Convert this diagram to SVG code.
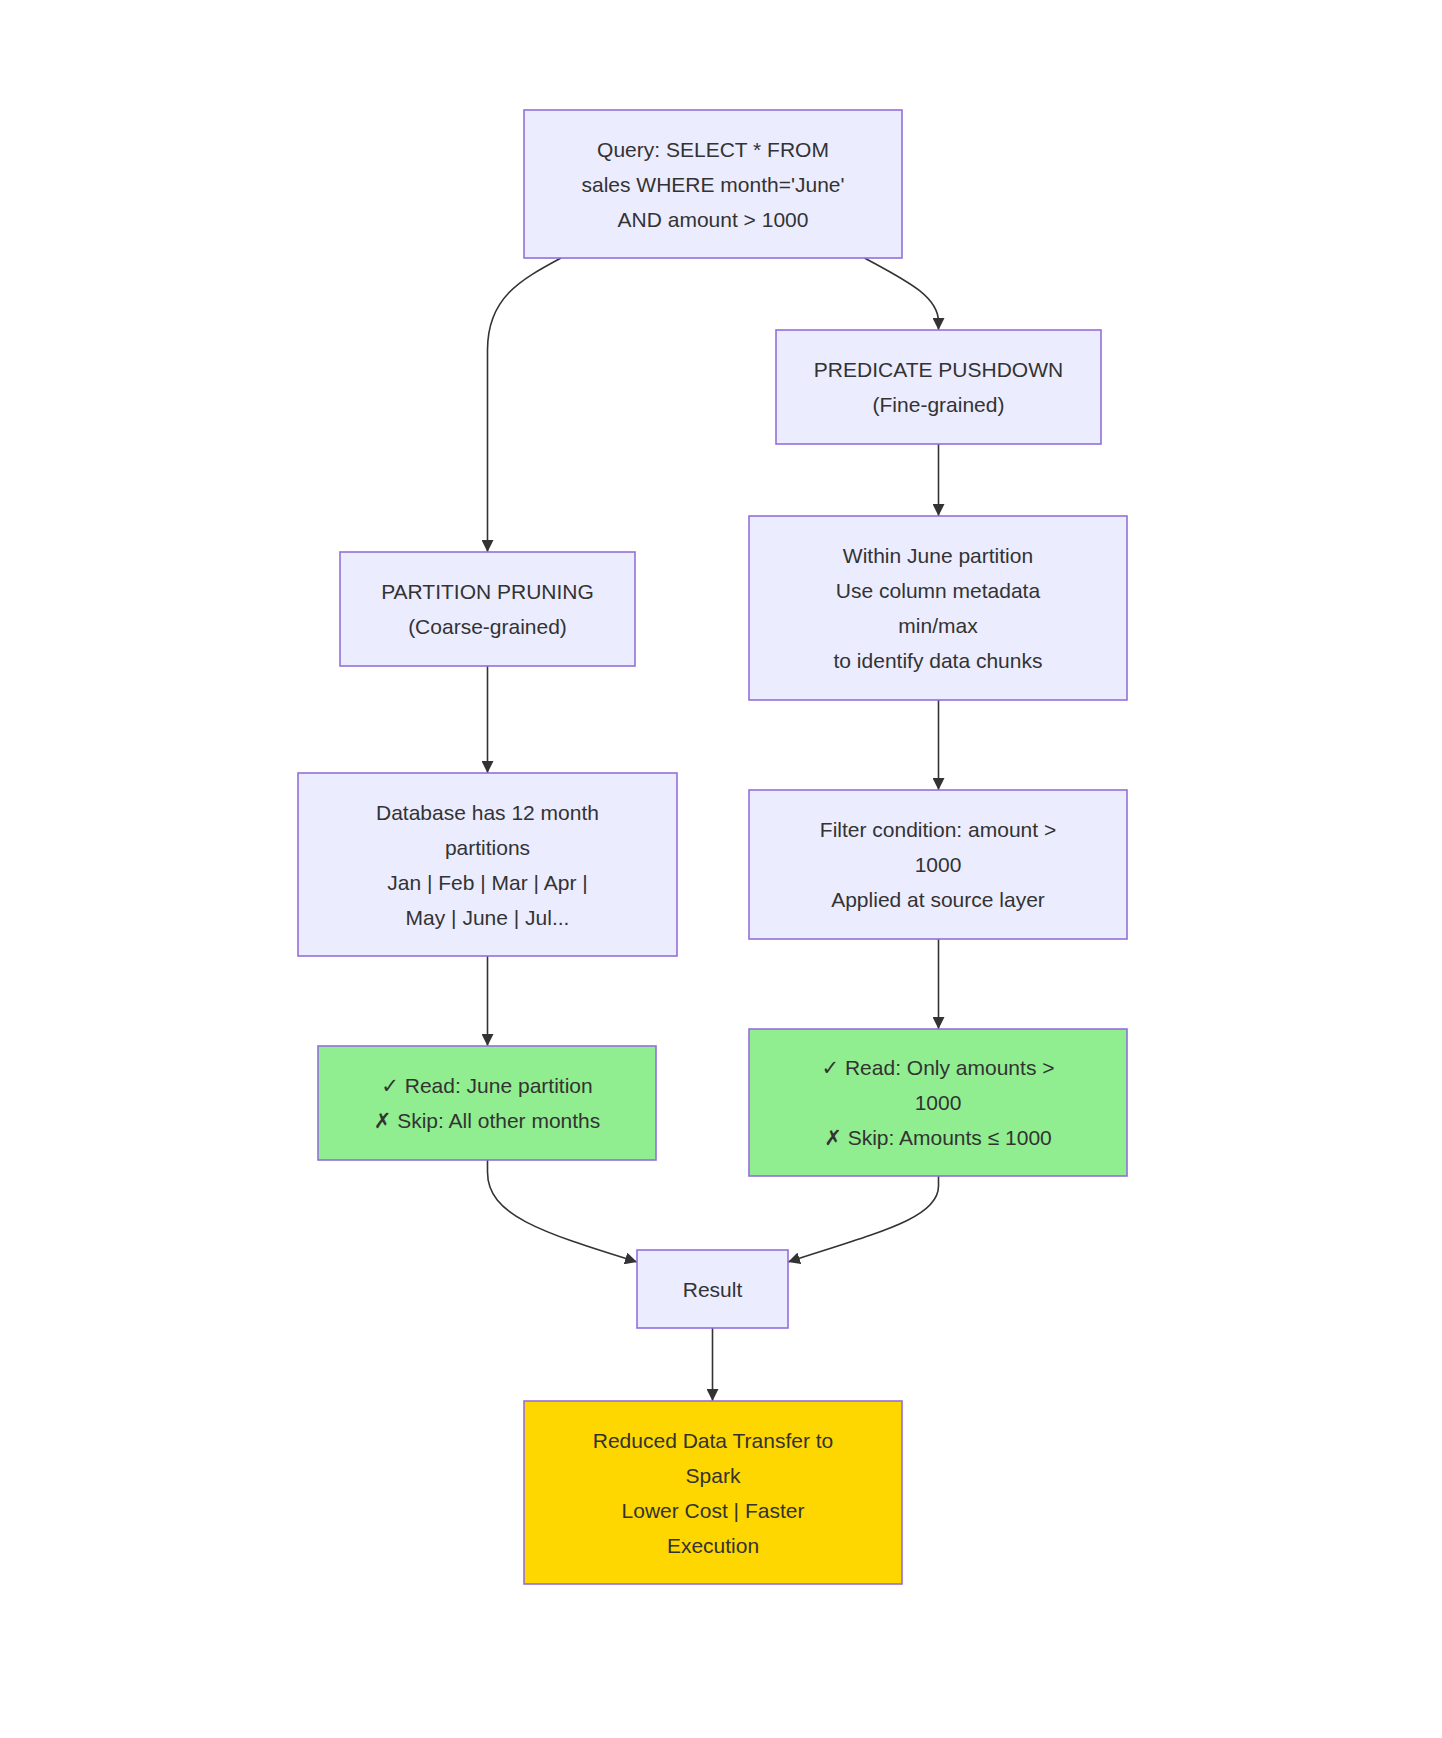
<svg xmlns="http://www.w3.org/2000/svg" width="1442" height="1738" viewBox="0 0 1442 1738">
<style>
  .n { fill: #ECECFF; stroke: #9370DB; stroke-width: 1.6; }
  .g { fill: #90EE90; stroke: #9370DB; stroke-width: 1.6; }
  .y { fill: #FFD700; stroke: #9370DB; stroke-width: 1.6; }
  text { font-family: "Trebuchet MS", "Liberation Sans", "DejaVu Sans", sans-serif; font-size: 21px; fill: #333333; text-anchor: middle; dominant-baseline: central; }
  .e { fill: none; stroke: #333333; stroke-width: 1.6; marker-end: url(#arr); }
</style>
<defs>
  <marker id="arr" viewBox="0 0 10 10" refX="10" refY="5" markerUnits="userSpaceOnUse" markerWidth="12" markerHeight="12" orient="auto">
    <path d="M0,0 L10,5 L0,10 z" fill="#333333"/>
  </marker>
</defs>
<rect width="1442" height="1738" fill="#ffffff"/>
<g id="edges">
  <path class="e" d="M561,258 C520,280 487.5,298 487.5,350 L487.5,552"/>
  <path class="e" d="M864.5,258 C905,280 938.5,296 938.5,322 L938.5,330"/>
  <path class="e" d="M938.5,444 L938.5,516"/>
  <path class="e" d="M938.5,700 L938.5,790"/>
  <path class="e" d="M938.5,939 L938.5,1029"/>
  <path class="e" d="M487.5,666 L487.5,773"/>
  <path class="e" d="M487.5,956 L487.5,1046"/>
  <path class="e" d="M487.5,1160 L487.5,1172 C487.5,1215 540,1232 637,1262"/>
  <path class="e" d="M938.5,1176 L938.5,1186 C938.5,1218 880,1232 788,1262"/>
  <path class="e" d="M712.5,1328 L712.5,1401"/>
</g>
<g id="query">
  <rect class="n" x="524" y="110" width="378" height="148"/>
  <text x="713" y="149">Query: SELECT * FROM</text>
  <text x="713" y="184">sales WHERE month='June'</text>
  <text x="713" y="219">AND amount &gt; 1000</text>
</g>
<g id="predicate">
  <rect class="n" x="776" y="330" width="325" height="114"/>
  <text x="938.5" y="369.5">PREDICATE PUSHDOWN</text>
  <text x="938.5" y="404.5">(Fine-grained)</text>
</g>
<g id="within">
  <rect class="n" x="749" y="516" width="378" height="184"/>
  <text x="938" y="555.5">Within June partition</text>
  <text x="938" y="590.5">Use column metadata</text>
  <text x="938" y="625.5">min/max</text>
  <text x="938" y="660.5">to identify data chunks</text>
</g>
<g id="filter">
  <rect class="n" x="749" y="790" width="378" height="149"/>
  <text x="938" y="829.5">Filter condition: amount &gt;</text>
  <text x="938" y="864.5">1000</text>
  <text x="938" y="899.5">Applied at source layer</text>
</g>
<g id="readonly">
  <rect class="g" x="749" y="1029" width="378" height="147"/>
  <text x="938" y="1067.5">✓ Read: Only amounts &gt;</text>
  <text x="938" y="1102.5">1000</text>
  <text x="938" y="1137.5">✗ Skip: Amounts ≤ 1000</text>
</g>
<g id="partition">
  <rect class="n" x="340" y="552" width="295" height="114"/>
  <text x="487.5" y="591.5">PARTITION PRUNING</text>
  <text x="487.5" y="626.5">(Coarse-grained)</text>
</g>
<g id="database">
  <rect class="n" x="298" y="773" width="379" height="183"/>
  <text x="487.5" y="812">Database has 12 month</text>
  <text x="487.5" y="847">partitions</text>
  <text x="487.5" y="882">Jan | Feb | Mar | Apr |</text>
  <text x="487.5" y="917">May | June | Jul...</text>
</g>
<g id="readjune">
  <rect class="g" x="318" y="1046" width="338" height="114"/>
  <text x="487" y="1085.5">✓ Read: June partition</text>
  <text x="487" y="1120.5">✗ Skip: All other months</text>
</g>
<g id="result">
  <rect class="n" x="637" y="1250" width="151" height="78"/>
  <text x="712.5" y="1289">Result</text>
</g>
<g id="reduced">
  <rect class="y" x="524" y="1401" width="378" height="183"/>
  <text x="713" y="1440.5">Reduced Data Transfer to</text>
  <text x="713" y="1475.5">Spark</text>
  <text x="713" y="1510.5">Lower Cost | Faster</text>
  <text x="713" y="1545.5">Execution</text>
</g>
</svg>
